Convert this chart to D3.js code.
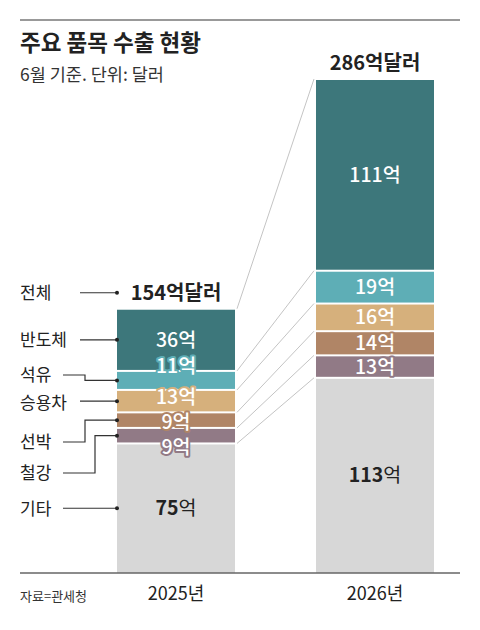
<!DOCTYPE html>
<html>
<head>
	<title>주요 품목 수출 현황</title>
	<meta charset="utf-8"/>
	<script src="https://cdn.jsdelivr.net/npm/d3@7/dist/d3.min.js"></script>
	<style type="text/css">
		body { margin: 0; background: #fff; }
		svg { display: block; font-family: "Noto Sans CJK KR", "Noto Sans", sans-serif; }
	</style>
</head>
<body>
	<svg id="chart" width="480" height="630"></svg>
	<script type="text/javascript">

		// data, bottom segment first
		var years = ["2025", "2026"];
		var yearLabels = ["2025년", "2026년"];
		var categories = ["기타", "철강", "선박", "승용차", "석유", "반도체"];
		var values2025 = [75, 9, 9, 13, 11, 36];
		var values2026 = [113, 13, 14, 16, 19, 111];
		var totals = [154, 286];

		var colors = ["#d7d7d7", "#917a86", "#b08566", "#d6b07c", "#5eaeb6", "#3d777b"];

		// where the legend texts sit (left column) and how leaders bend
		var legendPos = {
			"반도체": {y: 340, x0: 80},
			"석유": {y: 375, x0: 63, elbow: 85},
			"승용차": {y: 403, x0: 80},
			"선박": {y: 442, x0: 63, elbow: 85},
			"철강": {y: 473, x0: 63, elbow: 95},
			"기타": {y: 509, x0: 63}
		};
		// small nudges so the 2025 labels don't pile up
		var labelNudge2025 = {"기타": 0, "철강": 11, "선박": 2, "승용차": -4, "석유": -14, "반도체": 0};

		var svg = d3.select("#chart");

		var rows = years.map(function(y, i) {
			var r = {year: y};
			var vals = i === 0 ? values2025 : values2026;
			categories.forEach(function(c, j) { r[c] = vals[j]; });
			return r;
		});
		var series = d3.stack().keys(categories)(rows);

		var x = d3.scaleBand().domain(years).range([117, 434]).paddingInner(0.407).paddingOuter(0);
		var y = d3.scaleLinear().domain([0, d3.max(totals)]).range([573, 79]);
		var color = d3.scaleOrdinal().domain(categories).range(colors);

		// top rule
		svg.append("line")
			.attr("x1", 20).attr("x2", 460).attr("y1", 20).attr("y2", 20)
			.style("stroke", "#999").style("stroke-width", 2);

		svg.append("text").attr("x", 20).attr("y", 51)
			.text("주요 품목 수출 현황")
			.style("font-size", "22.5px").style("font-weight", "bold").style("fill", "#222");
		svg.append("text").attr("x", 20).attr("y", 81)
			.text("6월 기준. 단위: 달러")
			.style("font-size", "17.5px").style("fill", "#333");

		// connector lines between the bars
		var conn = svg.append("g");
		series.forEach(function(s) {
			conn.append("line")
				.attr("x1", x("2025") + x.bandwidth() + 2)
				.attr("y1", y(s[0][1]))
				.attr("x2", x("2026") - 2)
				.attr("y2", y(s[1][1]))
				.style("stroke", "#c4c4c4").style("stroke-width", 1);
		});

		// stacked bars
		svg.append("g").selectAll("g")
			.data(series).enter()
			.append("g")
				.style("fill", function(d) { return color(d.key); })
				.selectAll("rect")
				.data(function(d) { return d; }).enter()
				.append("rect")
					.attr("x", function(d) { return x(d.data.year); })
					.attr("width", x.bandwidth())
					.attr("y", function(d) { return y(d[1]) + 1; })
					.attr("height", function(d) {
						var bottom = d[0] === 0 ? y(0) : y(d[0]) - 1;
						return bottom - y(d[1]) - 1;
					});

		// value labels
		var lab = svg.append("g").style("text-anchor", "middle");
		series.forEach(function(s, k) {
			s.forEach(function(d, i) {
				var cx = x(d.data.year) + x.bandwidth() / 2;
				var cy = (y(d[0]) + y(d[1])) / 2;
				if (i === 0) cy += labelNudge2025[s.key];
				var v = d[1] - d[0];
				var t = lab.append("text")
					.attr("x", cx).attr("y", cy).attr("dy", "0.36em")
					.style("font-size", "19.5px");
				if (k === 0) {
					t.append("tspan").text(v).style("font-weight", "bold");
					t.append("tspan").text("억");
					t.style("fill", "#222");
				} else {
					t.text(v + "억")
						.style("fill", "#fff")
						.style("font-weight", 500)
						.style("stroke", color(s.key))
						.style("stroke-width", 4)
						.style("stroke-linejoin", "round")
						.style("paint-order", "stroke");
				}
			});
		});

		// totals above bars
		years.forEach(function(yr, i) {
			svg.append("text")
				.attr("x", x(yr) + x.bandwidth() / 2)
				.attr("y", y(i === 0 ? d3.sum(values2025) : d3.sum(values2026)) - 16)
				.attr("dy", "0.36em")
				.style("text-anchor", "middle")
				.style("font-size", "20px").style("font-weight", "bold").style("fill", "#222")
				.text(totals[i] + "억달러");
		});

		// legend on the left with leader lines to the 2025 bar
		var leg = svg.append("g");
		var totalY = y(d3.sum(values2025)) - 16;
		leg.append("text").attr("x", 20).attr("y", totalY).attr("dy", "0.36em")
			.text("전체").style("font-size", "17px").style("fill", "#222");
		leg.append("line").attr("x1", 80).attr("x2", x("2025")).attr("y1", totalY).attr("y2", totalY)
			.style("stroke", "#333").style("stroke-width", 1.2);
		leg.append("circle").attr("cx", x("2025")).attr("cy", totalY).attr("r", 2).style("fill", "#222");

		series.forEach(function(s) {
			var p = legendPos[s.key];
			var d = s[0];
			var my = (y(d[0]) + y(d[1])) / 2;
			var x1 = x("2025");
			leg.append("text").attr("x", 20).attr("y", p.y).attr("dy", "0.36em")
				.text(s.key).style("font-size", "17px").style("fill", "#222");
			var pts = p.elbow ? [[p.x0, p.y], [p.elbow, p.y], [p.elbow, my], [x1, my]] : [[p.x0, my], [x1, my]];
			leg.append("path").attr("d", d3.line()(pts))
				.style("fill", "none").style("stroke", "#333").style("stroke-width", 1.2);
			leg.append("circle").attr("cx", x1).attr("cy", my).attr("r", 2).style("fill", "#222");
		});

		// x axis
		var xAxis = svg.append("g").attr("transform", "translate(0," + y(0) + ")")
			.call(d3.axisBottom(x).tickSize(0).tickPadding(14).tickFormat(function(d, i) { return yearLabels[i]; }));
		xAxis.select(".domain").remove();
		xAxis.selectAll("text").style("font-size", "18px").style("fill", "#222")
			.style("font-family", "\"Noto Sans CJK KR\", sans-serif");
		svg.append("line").attr("x1", 20).attr("x2", 460).attr("y1", y(0)).attr("y2", y(0))
			.style("stroke", "#666").style("stroke-width", 1.5);

		svg.append("text").attr("x", 20).attr("y", 596).attr("dy", "0.36em")
			.text("자료=관세청").style("font-size", "13px").style("fill", "#333");

	</script>
</body>
</html>
